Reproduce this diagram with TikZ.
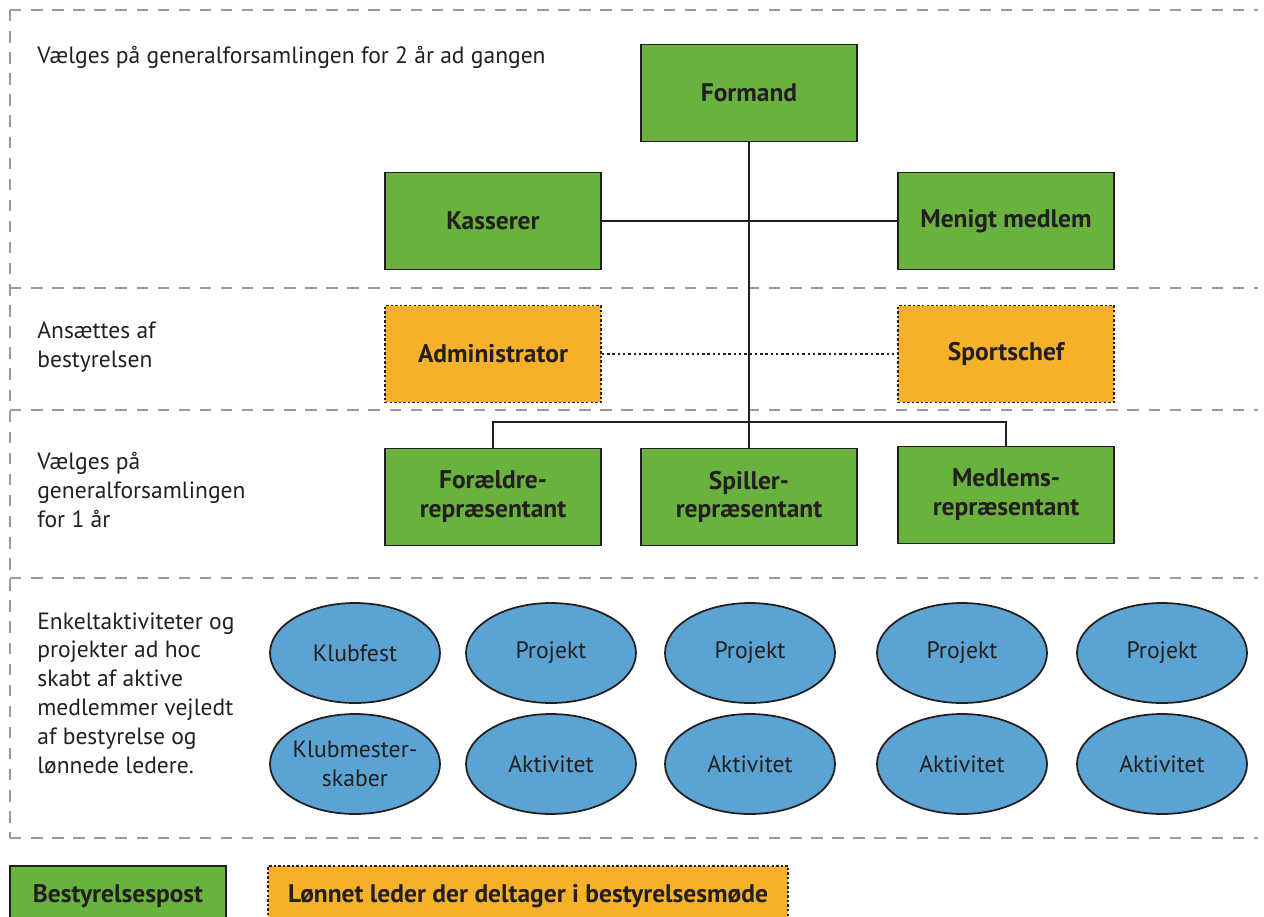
\documentclass[tikz,border=0pt]{standalone}
\usepackage{fontspec}
\setmainfont{PT Sans}
\usetikzlibrary{shapes.geometric}
\definecolor{postgreen}{HTML}{6AB23E}
\definecolor{lederorange}{HTML}{F6B12B}
\definecolor{eventblue}{HTML}{5BA3D3}
\definecolor{boxline}{HTML}{231F20}
\definecolor{ink}{HTML}{231F20}
\definecolor{sepgray}{HTML}{9A9A9A}
\begin{document}
\begin{tikzpicture}[x=0.02cm, y=-0.02cm,
    postbox/.style={rectangle, draw=boxline, line width=1.1pt, fill=postgreen, minimum width=4.32cm, minimum height=1.94cm, align=center, text=ink, font=\fontsize{14.5}{16.4}\selectfont\bfseries},
    lederbox/.style={postbox, fill=lederorange, dash pattern=on 1.4pt off 1.2pt},
    eventoval/.style={ellipse, draw=boxline, line width=1pt, fill=eventblue, minimum width=3.4cm, minimum height=2cm, inner sep=0pt, align=center, text=ink, font=\fontsize{13.5}{16.4}\selectfont},
    infotext/.style={anchor=west, align=left, inner sep=0pt, text=ink, font=\fontsize{13.4}{16.4}\selectfont},
    sepline/.style={draw=sepgray, line width=0.8pt, dash pattern=on 6.5pt off 5.5pt},
    linkline/.style={draw=boxline, line width=1.1pt}]
    \useasboundingbox (0,0) rectangle (1264,916);
    \clip (0,0) rectangle (1264,916);
    % dashed frame and section separators
    \foreach \y in {10,288,410,578,838}
        \draw[sepline] (10,\y) -- (1258,\y);
    \draw[sepline] (10,10) -- (10,838);
    % section descriptions
    \node[infotext] (t1) at (37,57) {Vælges på generalforsamlingen for 2 år ad gangen};
    \node[infotext] (t2) at (37,347) {Ansættes af\\bestyrelsen};
    \node[infotext] (t3) at (37,490) {Vælges på\\generalforsamlingen\\for 1 år};
    \node[infotext] (t4) at (37,693) {Enkeltaktiviteter og\\projekter ad hoc\\skabt af aktive\\medlemmer vejledt\\af bestyrelse og\\lønnede ledere.};
    % board
    \node[postbox] (formand) at (749,93) {Formand};
    \node[postbox] (kasserer) at (493,221) {Kasserer};
    \node[postbox] (menigt) at (1006,221) {Menigt medlem};
    \node[lederbox] (admin) at (493,354) {Administrator};
    \node[lederbox] (sport) at (1006,354) {Sportschef};
    \node[postbox] (foraeldre) at (493,497) {Forældre-\\repræsentant};
    \node[postbox] (spiller) at (749,497) {Spiller-\\repræsentant};
    \node[postbox] (medlems) at (1006,495) {Medlems-\\repræsentant};
    \coordinate (bar) at (749,422);
    \draw[linkline] (kasserer) -- (menigt);
    \draw[linkline, dash pattern=on 1.4pt off 1.6pt] (admin) -- (sport);
    \draw[linkline] (formand) -- (spiller);
    \draw[linkline] (foraeldre.north) |- (bar) -| (medlems.north);
    % activities and projects
    \node[eventoval] (e11) at (355,653) {Klubfest};
    \node[eventoval] (e12) at (551,653) {Projekt};
    \node[eventoval] (e13) at (750,653) {Projekt};
    \node[eventoval] (e14) at (962,653) {Projekt};
    \node[eventoval] (e15) at (1162,653) {Projekt};
    \node[eventoval, inner xsep=-5pt] (e21) at (355,764) {Klubmester-\\skaber};
    \node[eventoval] (e22) at (551,764) {Aktivitet};
    \node[eventoval] (e23) at (750,764) {Aktivitet};
    \node[eventoval] (e24) at (962,764) {Aktivitet};
    \node[eventoval] (e25) at (1162,764) {Aktivitet};
    % legend
    \node[postbox, minimum width=4.32cm, minimum height=1.2cm] (legpost) at (118,896) {Bestyrelsespost};
    \node[lederbox, minimum width=10.4cm, minimum height=1.2cm] (legleder) at (528,896) {Lønnet leder der deltager i bestyrelsesmøde};
\end{tikzpicture}
\end{document}
